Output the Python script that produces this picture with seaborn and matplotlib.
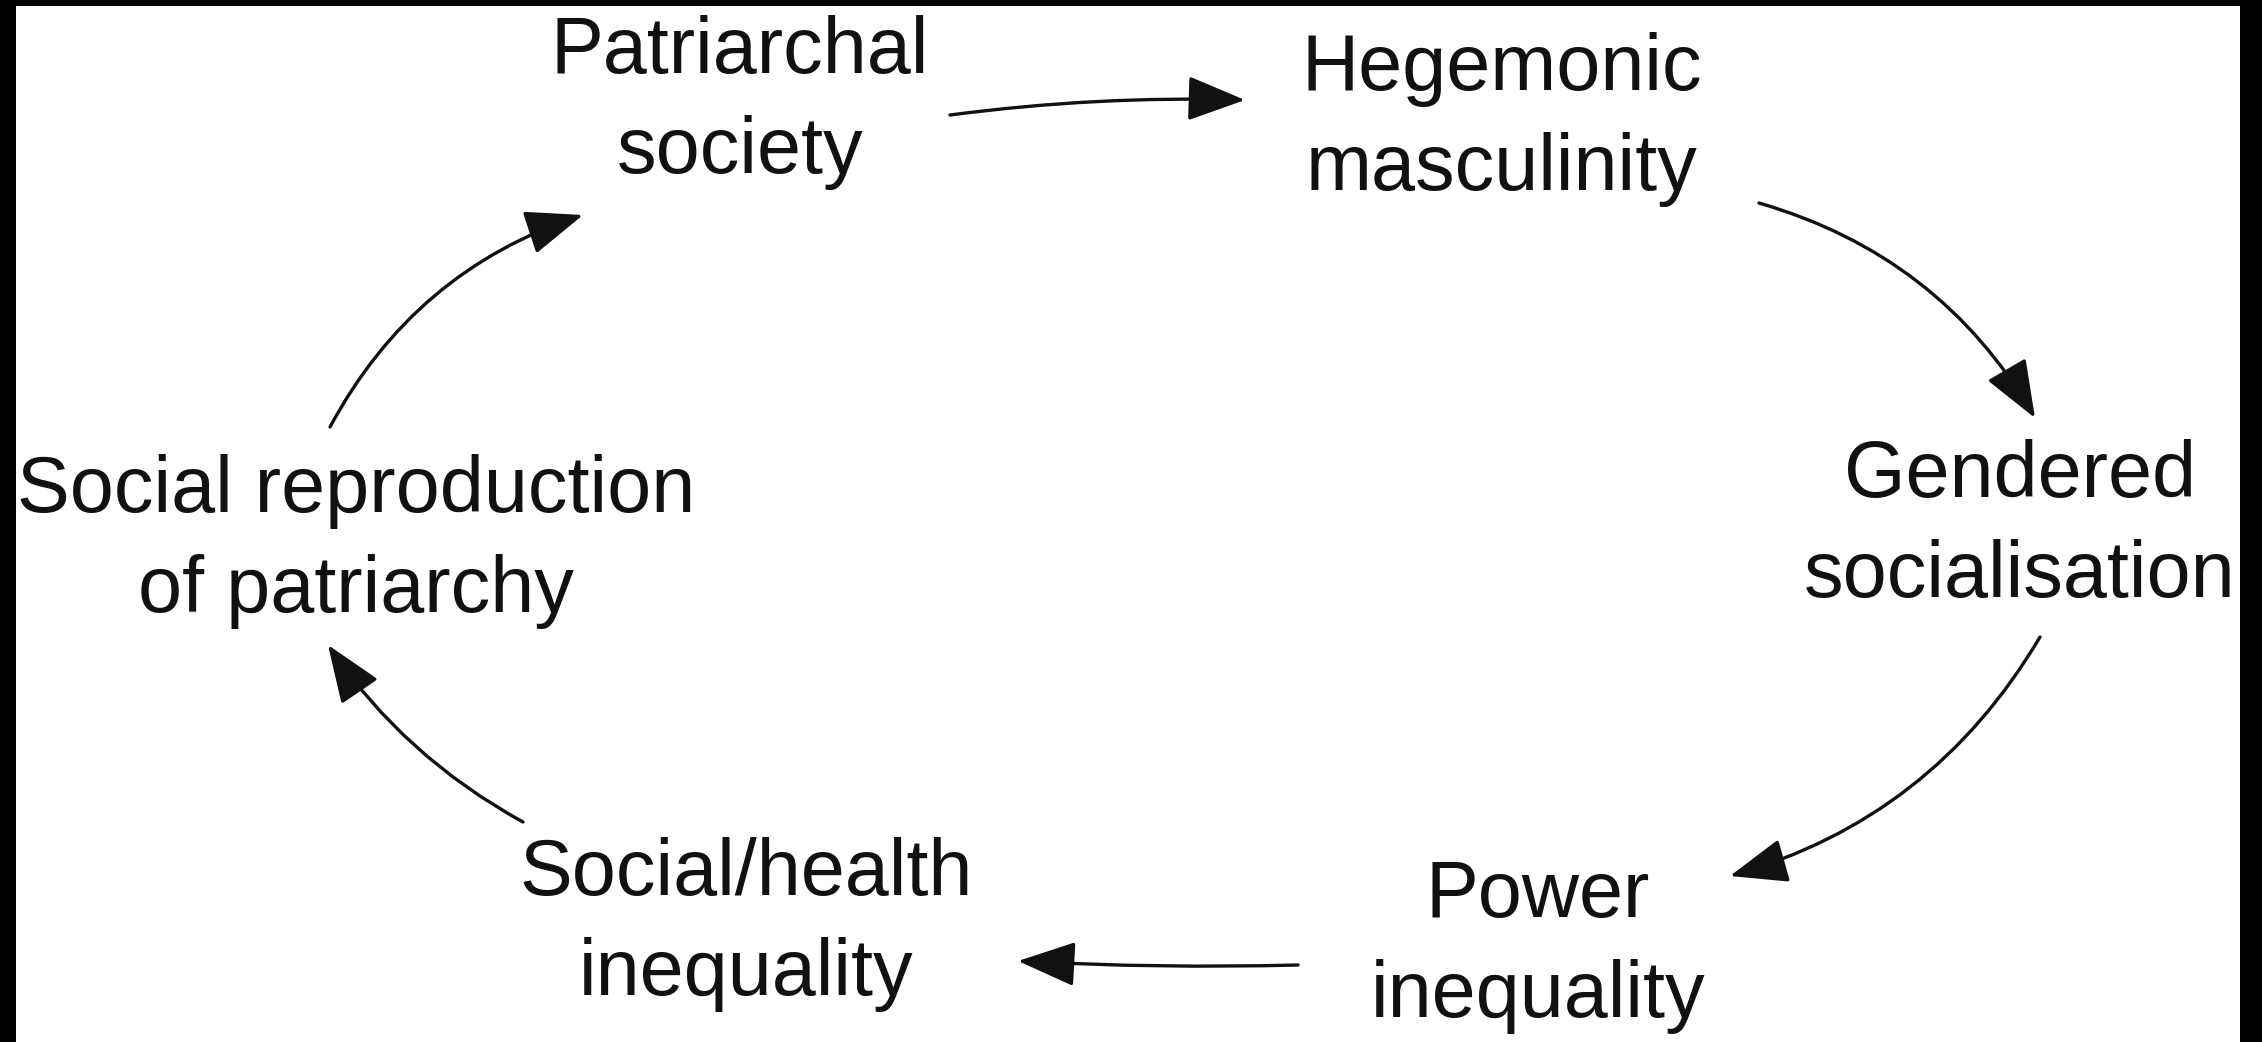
import matplotlib
matplotlib.use("Agg")
import matplotlib.pyplot as plt
import seaborn as sns

# cycle nodes (clockwise from top left)
labels = [
    "Patriarchal\nsociety",
    "Hegemonic\nmasculinity",
    "Gendered\nsocialisation",
    "Power\ninequality",
    "Social/health\ninequality",
    "Social reproduction\nof patriarchy",
]
label_x = [740, 1502, 2020, 1538, 746, 356]
label_y = [173, 190, 597, 1017, 995, 612]  # last-line baseline, pixel coords

# arrows between the nodes
arrow_start = [(950, 115), (1759, 203), (2040, 637), (1298, 965), (523, 822), (330, 427)]
arrow_end = [(1245, 100), (2035, 418), (1730, 876), (1018, 961), (328, 645), (583, 215)]
arrow_rad = [-0.04, -0.2, -0.2, -0.02, -0.12, -0.2]

sns.set_theme(style="white")
plt.rcParams["font.family"] = ["Liberation Sans", "DejaVu Sans"]

W, H = 2262, 1042
fig = plt.figure(figsize=(W / 100, H / 100), dpi=100, facecolor="black")

# white panel inside the black frame
left, right, top = 16, 2240, 6
ax = fig.add_axes([left / W, 0, (right - left) / W, (H - top) / H])
ax.set_facecolor("white")
ax.set_xlim(left, right)
ax.set_ylim(H, top)
ax.set_xticks([])
ax.set_yticks([])
sns.despine(ax=ax, left=True, bottom=True)

# ============================================
# Labels
# ============================================

for txt, x, y in zip(labels, label_x, label_y):
    ax.text(
        x, y, txt,
        ha="center",
        va="baseline",
        multialignment="center",
        fontsize=57,
        linespacing=1.43,
        color="#111111"
    )

# ============================================
# Arrows
# ============================================

for (x0, y0), (x1, y1), r in zip(arrow_start, arrow_end, arrow_rad):
    ax.annotate(
        "",
        xy=(x1, y1),
        xytext=(x0, y0),
        arrowprops=dict(
            arrowstyle="-|>,head_length=36,head_width=14",
            connectionstyle=f"arc3,rad={r}",
            mutation_scale=1,
            lw=2.4,
            color="#111111",
            shrinkA=0,
            shrinkB=0
        )
    )

fig.savefig("out.png", dpi=100, facecolor=fig.get_facecolor())
